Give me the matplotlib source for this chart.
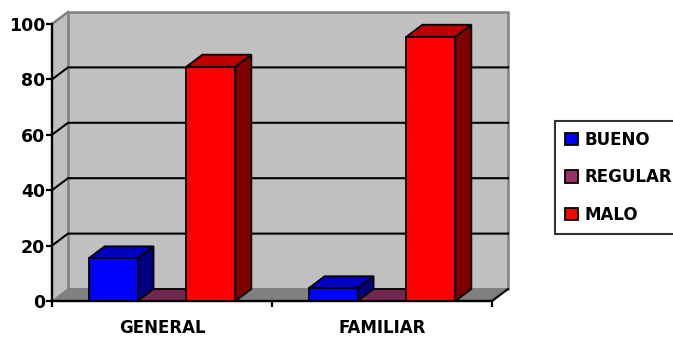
import matplotlib
matplotlib.use("Agg")
import matplotlib.pyplot as plt
from matplotlib.patches import Polygon, Patch

categories = ["GENERAL", "FAMILIAR"]
series = ["BUENO", "REGULAR", "MALO"]
bueno = [15.4, 4.6]
regular = [0, 0]
malo = [84.6, 95.4]

face_colors = ["#0000FF", "#993366", "#FF0000"]
top_colors = ["#0000C0", "#732650", "#C00000"]
side_colors = ["#000080", "#4D1A33", "#800000"]

plt.rcParams["font.family"] = ["DejaVu Sans"]
plt.rcParams["font.weight"] = "bold"

fig = plt.figure(figsize=(6.73, 3.37), dpi=100)
ax = fig.add_axes([52 / 673, 36 / 337, 440 / 673, 277 / 337])
n = len(categories)
ax.set_xlim(0, n)
ax.set_ylim(0, 100)
ax.set_facecolor("none")

dx, dy = 0.0727, 4.33   # depth offset of the 3-D box
wall = "#C0C0C0"
edge = "#808080"


def poly(pts, fc, ec, lw, z):
    ax.add_patch(Polygon(pts, closed=True, facecolor=fc, edgecolor=ec,
                         linewidth=lw, zorder=z, clip_on=False,
                         joinstyle="miter"))


# side wall, back wall and floor
poly([(0, 0), (dx, dy), (dx, 100 + dy), (0, 100)], wall, "none", 0, 1)
poly([(dx, dy), (n + dx, dy), (n + dx, 100 + dy), (dx, 100 + dy)], wall, edge, 1.8, 1)
poly([(0, 0), (n, 0), (n + dx, dy), (dx, dy)], edge, edge, 1, 1.5)
ax.plot([0, dx], [100, 100 + dy], color=edge, lw=1.8, clip_on=False, zorder=1.6)
ax.plot([n, n + dx], [0, dy], color="black", lw=1.5, clip_on=False, zorder=1.6)

for v in [20, 40, 60, 80]:
    ax.plot([0, dx, n + dx], [v, v + dy, v + dy], color="black", lw=1.5,
            clip_on=False, zorder=2)

# 3-D columns
width = 1 / 4.5
values = [bueno, regular, malo]
for g in range(n):
    for s, vals in enumerate(values):
        x0 = g + width * 0.75 + s * width
        h = vals[g]
        front = [(x0, 0), (x0 + width, 0), (x0 + width, h), (x0, h)]
        top = [(x0, h), (x0 + width, h), (x0 + width + dx, h + dy), (x0 + dx, h + dy)]
        side = [(x0 + width, 0), (x0 + width + dx, dy), (x0 + width + dx, h + dy), (x0 + width, h)]
        z = 3 + g * 0.1 + s * 0.01
        poly(side, side_colors[s], "black", 1.3, z)
        poly(top, top_colors[s], "black", 1.3, z)
        poly(front, face_colors[s], "black", 1.3, z)

for side_name in ["top", "right"]:
    ax.spines[side_name].set_visible(False)
for side_name in ["left", "bottom"]:
    ax.spines[side_name].set_linewidth(1.7)
    ax.spines[side_name].set_zorder(2.5)

ax.set_yticks(range(0, 101, 20))
ax.tick_params(axis="y", direction="out", length=4, width=1.6, labelsize=12.5, pad=1)
ax.set_xticks(range(n + 1))
ax.set_xticklabels([])
ax.tick_params(axis="x", which="major", length=4.5, width=1.6)
ax.set_xticks([g + 0.5 for g in range(n)], minor=True)
ax.set_xticklabels(categories, minor=True)
ax.tick_params(axis="x", which="minor", length=0, pad=13, labelsize=12)

handles = [Patch(facecolor=c, edgecolor="black", lw=1.3) for c in face_colors]
leg = fig.legend(handles, series, loc="upper left",
                 bbox_to_anchor=(555 / 673, 1 - 121 / 337),
                 frameon=True, fancybox=False, edgecolor="black",
                 prop={"weight": "bold", "size": 12},
                 handlelength=0.75, handleheight=0.75, handletextpad=0.4,
                 labelspacing=1.16, borderpad=0.6, borderaxespad=0)
leg.get_frame().set_linewidth(1.5)

fig.savefig("out.png", dpi=100)
